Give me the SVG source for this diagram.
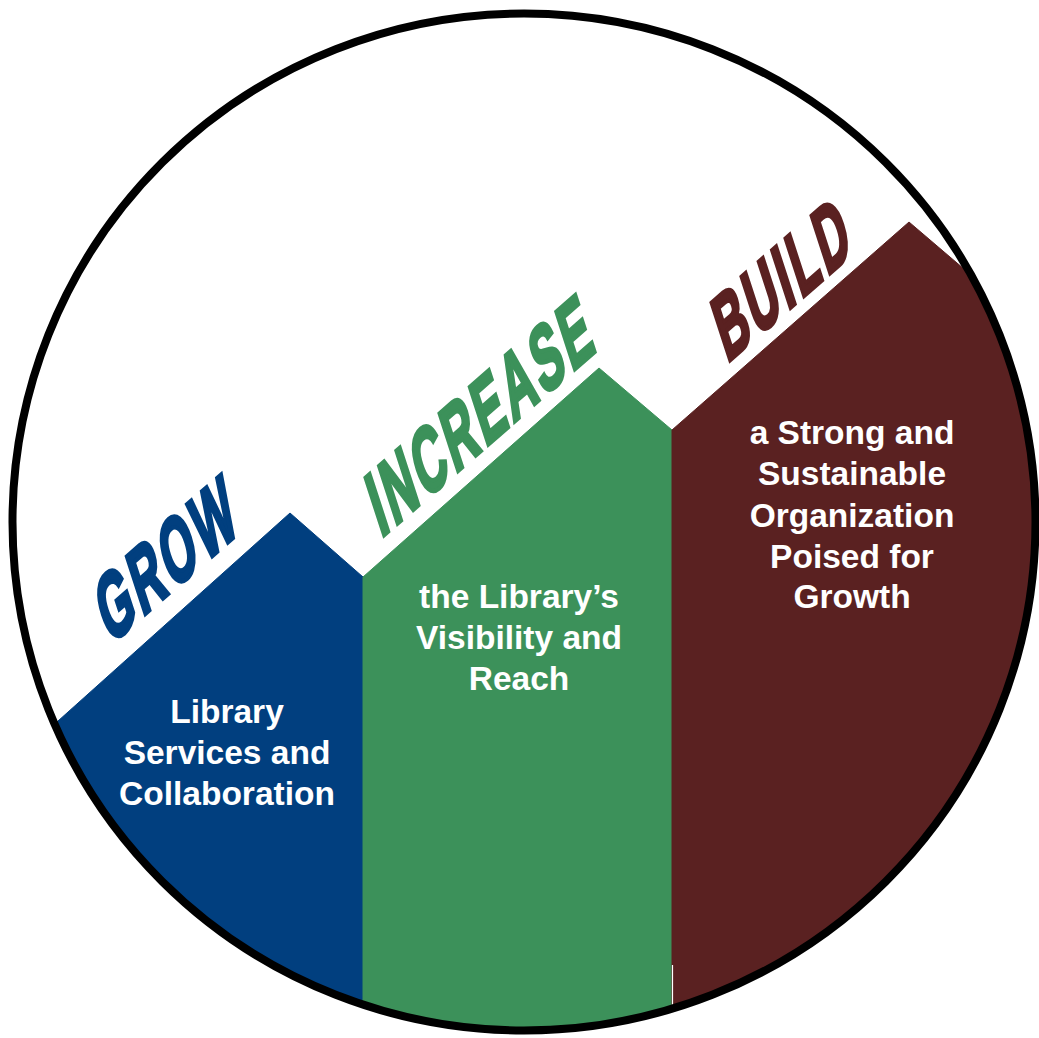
<svg xmlns="http://www.w3.org/2000/svg" width="1039" height="1038" viewBox="0 0 1039 1038">
<defs>
<clipPath id="circ"><ellipse cx="524" cy="522" rx="511.5" ry="508.5"/></clipPath>
<style>
.body{font-family:"Liberation Sans",Arial,sans-serif;font-weight:bold;font-size:33.5px;fill:#fff;text-anchor:middle}
.head{font-family:"Liberation Sans",Arial,sans-serif;font-weight:bold;font-size:100px;letter-spacing:8px;stroke-width:5;stroke-linejoin:miter}
.blue{fill:#013F7F;stroke:#013F7F}
.green{fill:#3C915A;stroke:#3C915A}
.maroon{fill:#5A2121;stroke:#5A2121}
</style>
</defs>
<rect width="1039" height="1038" fill="#fff"/>
<g id="grow">
<polygon class="blue" stroke="none" clip-path="url(#circ)" points="0,773 290,513 363,577 363,1038 0,1038"/>
<text class="head blue" transform="matrix(0.377 -0.328 0.272 0.837 110 645)">GROW</text>
<text class="body" x="227" y="723">Library</text>
<text class="body" x="227" y="764">Services and</text>
<text class="body" x="227" y="805">Collaboration</text>
</g>
<g id="increase">
<polygon class="green" stroke="none" clip-path="url(#circ)" points="363,577 599,368 672,430 672,1038 363,1038"/>
<text class="head green" transform="matrix(0.377 -0.328 0.272 0.837 381 538)">INCREASE</text>
<text class="body" x="519" y="608">the Library’s</text>
<text class="body" x="519" y="649">Visibility and</text>
<text class="body" x="519" y="690">Reach</text>
</g>
<g id="build">
<polygon class="maroon" stroke="none" clip-path="url(#circ)" points="672,430 909,222 1039,333 1039,1038 672,1038"/>
<text class="head maroon" transform="matrix(0.377 -0.328 0.272 0.837 727 363)">BUILD</text>
<text class="body" x="852" y="444">a Strong and</text>
<text class="body" x="852" y="485">Sustainable</text>
<text class="body" x="852" y="527">Organization</text>
<text class="body" x="852" y="568">Poised for</text>
<text class="body" x="852" y="608">Growth</text>
</g>
<line x1="672.5" y1="965" x2="672.5" y2="1038" stroke="#fff" stroke-width="1.2" clip-path="url(#circ)"/>
<g id="connectors"/>
<ellipse cx="524" cy="522" rx="511.5" ry="508.5" fill="none" stroke="#000" stroke-width="8"/>
</svg>
